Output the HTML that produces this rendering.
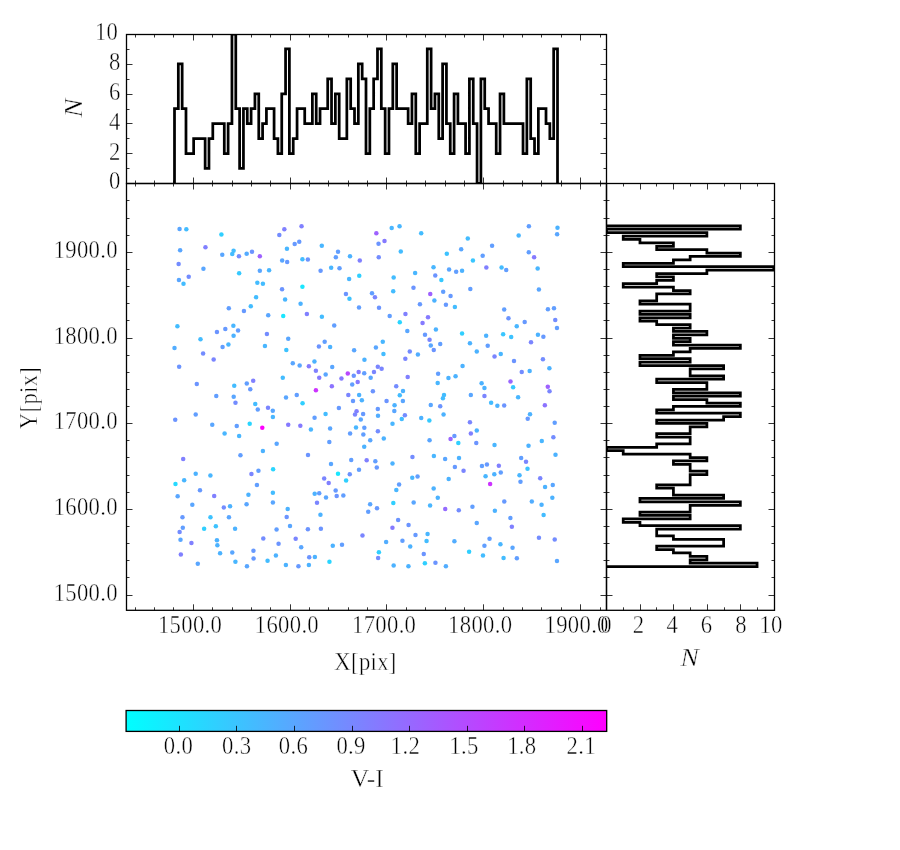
<!DOCTYPE html>
<html><head><meta charset="utf-8"><title>plot</title>
<style>
html,body{margin:0;padding:0;background:#fff;}
svg{display:block;}
text{font-family:"Liberation Serif","DejaVu Serif",serif;fill:#000;stroke:#fff;stroke-width:0.45px;}
</style></head>
<body>
<svg width="900" height="850" viewBox="0 0 900 850">
<defs>
<linearGradient id="cool" x1="0" y1="0" x2="1" y2="0">
<stop offset="0" stop-color="#00ffff"/><stop offset="1" stop-color="#ff00ff"/>
</linearGradient>
<clipPath id="cth"><rect x="126.5" y="34" width="479.9" height="149.4"/></clipPath>
<clipPath id="crh"><rect x="606.4" y="183.4" width="168.1" height="426.9"/></clipPath>
</defs>
<rect x="0" y="0" width="900" height="850" fill="#fff"/>
<g id="dots">
<circle cx="179.58" cy="228.93" r="2.25" fill="#59a6ff"/>
<circle cx="186.33" cy="229.36" r="2.25" fill="#43bcff"/>
<circle cx="221.4" cy="234.59" r="2.25" fill="#30cfff"/>
<circle cx="205.45" cy="247.22" r="2.25" fill="#8080ff"/>
<circle cx="180.13" cy="250.37" r="2.25" fill="#59a6ff"/>
<circle cx="222.27" cy="254.63" r="2.25" fill="#59a6ff"/>
<circle cx="233.59" cy="250.82" r="2.25" fill="#43bcff"/>
<circle cx="232.26" cy="253.97" r="2.25" fill="#43bcff"/>
<circle cx="238.93" cy="256.26" r="2.25" fill="#738cff"/>
<circle cx="246.66" cy="253.86" r="2.25" fill="#54abff"/>
<circle cx="251.99" cy="251.8" r="2.25" fill="#6b94ff"/>
<circle cx="259.83" cy="256.26" r="2.25" fill="#9e61ff"/>
<circle cx="178.64" cy="263.97" r="2.25" fill="#738cff"/>
<circle cx="203.43" cy="268.78" r="2.25" fill="#59a6ff"/>
<circle cx="239.14" cy="273.36" r="2.25" fill="#36c9ff"/>
<circle cx="259.83" cy="270.77" r="2.25" fill="#59a6ff"/>
<circle cx="188.73" cy="276.84" r="2.25" fill="#738cff"/>
<circle cx="178.93" cy="279.89" r="2.25" fill="#59a6ff"/>
<circle cx="183.5" cy="283.81" r="2.25" fill="#43bcff"/>
<circle cx="257.33" cy="282.83" r="2.25" fill="#43bcff"/>
<circle cx="262.9" cy="283.81" r="2.25" fill="#43bcff"/>
<circle cx="256.13" cy="297.2" r="2.25" fill="#43bcff"/>
<circle cx="250.79" cy="306.24" r="2.25" fill="#43bcff"/>
<circle cx="284.33" cy="229.26" r="2.25" fill="#8080ff"/>
<circle cx="301.54" cy="226.32" r="2.25" fill="#8080ff"/>
<circle cx="279.32" cy="234.92" r="2.25" fill="#738cff"/>
<circle cx="294.68" cy="244.06" r="2.25" fill="#6699ff"/>
<circle cx="299.25" cy="241.67" r="2.25" fill="#6699ff"/>
<circle cx="286.95" cy="248.86" r="2.25" fill="#49b6ff"/>
<circle cx="321.79" cy="245.7" r="2.25" fill="#49b6ff"/>
<circle cx="338.02" cy="251.8" r="2.25" fill="#619eff"/>
<circle cx="335.84" cy="257.35" r="2.25" fill="#619eff"/>
<circle cx="349.99" cy="256.26" r="2.25" fill="#4cb2ff"/>
<circle cx="359.79" cy="260.57" r="2.25" fill="#8080ff"/>
<circle cx="282.16" cy="260.57" r="2.25" fill="#59a6ff"/>
<circle cx="287.16" cy="262.03" r="2.25" fill="#6699ff"/>
<circle cx="302.41" cy="259.31" r="2.25" fill="#43bcff"/>
<circle cx="307.85" cy="259.53" r="2.25" fill="#6b94ff"/>
<circle cx="269.09" cy="270.2" r="2.25" fill="#49b6ff"/>
<circle cx="320.59" cy="270.77" r="2.25" fill="#6699ff"/>
<circle cx="331.16" cy="267.8" r="2.25" fill="#49b6ff"/>
<circle cx="339.5" cy="268.13" r="2.25" fill="#619eff"/>
<circle cx="349.12" cy="278.91" r="2.25" fill="#49b6ff"/>
<circle cx="359.25" cy="275.86" r="2.25" fill="#30cfff"/>
<circle cx="282.05" cy="289.25" r="2.25" fill="#6b94ff"/>
<circle cx="302.41" cy="286.64" r="2.25" fill="#1ae6ff"/>
<circle cx="345.96" cy="294.03" r="2.25" fill="#6b94ff"/>
<circle cx="349.45" cy="298.73" r="2.25" fill="#3dc2ff"/>
<circle cx="285.1" cy="299.49" r="2.25" fill="#49b6ff"/>
<circle cx="300.58" cy="303.84" r="2.25" fill="#4cb2ff"/>
<circle cx="376.34" cy="233.37" r="2.25" fill="#9e61ff"/>
<circle cx="391.7" cy="227.95" r="2.25" fill="#49b6ff"/>
<circle cx="399.54" cy="226.27" r="2.25" fill="#49b6ff"/>
<circle cx="421.21" cy="233.37" r="2.25" fill="#43bcff"/>
<circle cx="384.51" cy="241.12" r="2.25" fill="#857aff"/>
<circle cx="378.52" cy="243.63" r="2.25" fill="#6b94ff"/>
<circle cx="400.78" cy="251.58" r="2.25" fill="#43bcff"/>
<circle cx="378.74" cy="257.24" r="2.25" fill="#738cff"/>
<circle cx="446.8" cy="253.77" r="2.25" fill="#3dc2ff"/>
<circle cx="461.17" cy="249.18" r="2.25" fill="#59a6ff"/>
<circle cx="433.51" cy="267.37" r="2.25" fill="#49b6ff"/>
<circle cx="415.11" cy="273.03" r="2.25" fill="#49b6ff"/>
<circle cx="449.08" cy="269.54" r="2.25" fill="#59a6ff"/>
<circle cx="456.16" cy="271.72" r="2.25" fill="#619eff"/>
<circle cx="462.06" cy="270.77" r="2.25" fill="#4cb2ff"/>
<circle cx="435.25" cy="275.42" r="2.25" fill="#6b94ff"/>
<circle cx="441.35" cy="280.11" r="2.25" fill="#36c9ff"/>
<circle cx="393.66" cy="277.57" r="2.25" fill="#43bcff"/>
<circle cx="413.48" cy="287.77" r="2.25" fill="#6b94ff"/>
<circle cx="393.22" cy="291.17" r="2.25" fill="#43bcff"/>
<circle cx="371.99" cy="293.17" r="2.25" fill="#619eff"/>
<circle cx="374.93" cy="297.31" r="2.25" fill="#7a85ff"/>
<circle cx="430.24" cy="294.03" r="2.25" fill="#9e61ff"/>
<circle cx="443.2" cy="291.65" r="2.25" fill="#619eff"/>
<circle cx="450.57" cy="295.9" r="2.25" fill="#6699ff"/>
<circle cx="434.38" cy="300.58" r="2.25" fill="#4cb2ff"/>
<circle cx="419.93" cy="304.23" r="2.25" fill="#6699ff"/>
<circle cx="445.92" cy="304.77" r="2.25" fill="#6699ff"/>
<circle cx="467.78" cy="238.56" r="2.25" fill="#43bcff"/>
<circle cx="492.08" cy="245.67" r="2.25" fill="#619eff"/>
<circle cx="528.89" cy="226.27" r="2.25" fill="#619eff"/>
<circle cx="518.67" cy="235.56" r="2.25" fill="#49b6ff"/>
<circle cx="557.49" cy="227.78" r="2.25" fill="#4cb2ff"/>
<circle cx="557.11" cy="234.22" r="2.25" fill="#59a6ff"/>
<circle cx="482.67" cy="255.78" r="2.25" fill="#619eff"/>
<circle cx="472.93" cy="260.57" r="2.25" fill="#39c6ff"/>
<circle cx="528.78" cy="252.33" r="2.25" fill="#619eff"/>
<circle cx="534.11" cy="257.17" r="2.25" fill="#857aff"/>
<circle cx="486.33" cy="267.44" r="2.25" fill="#8080ff"/>
<circle cx="501.56" cy="267.44" r="2.25" fill="#43bcff"/>
<circle cx="506.22" cy="269.89" r="2.25" fill="#619eff"/>
<circle cx="537.67" cy="268.44" r="2.25" fill="#49b6ff"/>
<circle cx="470.33" cy="289.11" r="2.25" fill="#619eff"/>
<circle cx="538.89" cy="289.44" r="2.25" fill="#59a6ff"/>
<circle cx="228.8" cy="308.23" r="2.25" fill="#619eff"/>
<circle cx="243.94" cy="310.95" r="2.25" fill="#6699ff"/>
<circle cx="177.4" cy="326.19" r="2.25" fill="#43bcff"/>
<circle cx="216.94" cy="331.97" r="2.25" fill="#6b94ff"/>
<circle cx="225.32" cy="328.92" r="2.25" fill="#6699ff"/>
<circle cx="233.37" cy="325.76" r="2.25" fill="#49b6ff"/>
<circle cx="238.06" cy="330.44" r="2.25" fill="#619eff"/>
<circle cx="233.59" cy="335.67" r="2.25" fill="#4cb2ff"/>
<circle cx="200.49" cy="339.15" r="2.25" fill="#43bcff"/>
<circle cx="228.43" cy="344.49" r="2.25" fill="#49b6ff"/>
<circle cx="222.59" cy="347.1" r="2.25" fill="#619eff"/>
<circle cx="174.51" cy="348.08" r="2.25" fill="#52adff"/>
<circle cx="266.91" cy="334.03" r="2.25" fill="#738cff"/>
<circle cx="264.95" cy="346.12" r="2.25" fill="#49b6ff"/>
<circle cx="203.1" cy="353.52" r="2.25" fill="#738cff"/>
<circle cx="213.66" cy="359.4" r="2.25" fill="#7a85ff"/>
<circle cx="179.15" cy="366.7" r="2.25" fill="#6b94ff"/>
<circle cx="196.79" cy="384.01" r="2.25" fill="#6b94ff"/>
<circle cx="234.24" cy="385.83" r="2.25" fill="#43bcff"/>
<circle cx="246.77" cy="383.58" r="2.25" fill="#619eff"/>
<circle cx="253.19" cy="380.86" r="2.25" fill="#8080ff"/>
<circle cx="250.25" cy="389.23" r="2.25" fill="#6699ff"/>
<circle cx="359" cy="307.44" r="2.25" fill="#619eff"/>
<circle cx="268.22" cy="315.22" r="2.25" fill="#59a6ff"/>
<circle cx="283.22" cy="316" r="2.25" fill="#1ae6ff"/>
<circle cx="306.89" cy="314.11" r="2.25" fill="#8080ff"/>
<circle cx="321.89" cy="316.67" r="2.25" fill="#43bcff"/>
<circle cx="334.22" cy="325.44" r="2.25" fill="#619eff"/>
<circle cx="288.22" cy="338.77" r="2.25" fill="#59a6ff"/>
<circle cx="324.67" cy="341.63" r="2.25" fill="#619eff"/>
<circle cx="318.89" cy="346.56" r="2.25" fill="#6b94ff"/>
<circle cx="330.11" cy="347.11" r="2.25" fill="#4cb2ff"/>
<circle cx="286.33" cy="350.11" r="2.25" fill="#3dc2ff"/>
<circle cx="354.11" cy="350.33" r="2.25" fill="#59a6ff"/>
<circle cx="364.44" cy="359.67" r="2.25" fill="#4cb2ff"/>
<circle cx="292.78" cy="363.22" r="2.25" fill="#59a6ff"/>
<circle cx="299.67" cy="365.43" r="2.25" fill="#59a6ff"/>
<circle cx="308.86" cy="366.33" r="2.25" fill="#857aff"/>
<circle cx="314.44" cy="361.56" r="2.25" fill="#4cb2ff"/>
<circle cx="315.89" cy="370.78" r="2.25" fill="#8080ff"/>
<circle cx="332.22" cy="366.89" r="2.25" fill="#59a6ff"/>
<circle cx="325.67" cy="374.44" r="2.25" fill="#59a6ff"/>
<circle cx="319.22" cy="377.78" r="2.25" fill="#857aff"/>
<circle cx="282.78" cy="377.67" r="2.25" fill="#43bcff"/>
<circle cx="341.44" cy="378.56" r="2.25" fill="#857aff"/>
<circle cx="347.78" cy="373.56" r="2.25" fill="#b847ff"/>
<circle cx="353.78" cy="375.63" r="2.25" fill="#6b94ff"/>
<circle cx="358.65" cy="371.89" r="2.25" fill="#857aff"/>
<circle cx="364.22" cy="373.22" r="2.25" fill="#619eff"/>
<circle cx="357.67" cy="381.89" r="2.25" fill="#857aff"/>
<circle cx="352.22" cy="384.44" r="2.25" fill="#619eff"/>
<circle cx="331.84" cy="386.37" r="2.25" fill="#8c73ff"/>
<circle cx="315.9" cy="390.22" r="2.25" fill="#cc33ff"/>
<circle cx="379" cy="307.63" r="2.25" fill="#6b94ff"/>
<circle cx="454.89" cy="307.11" r="2.25" fill="#43bcff"/>
<circle cx="389.67" cy="316.11" r="2.25" fill="#619eff"/>
<circle cx="405.44" cy="314" r="2.25" fill="#8080ff"/>
<circle cx="399.78" cy="322.22" r="2.25" fill="#2ad5ff"/>
<circle cx="428" cy="317.22" r="2.25" fill="#857aff"/>
<circle cx="422.56" cy="322.89" r="2.25" fill="#857aff"/>
<circle cx="407.33" cy="331" r="2.25" fill="#59a6ff"/>
<circle cx="435.89" cy="329.44" r="2.25" fill="#4cb2ff"/>
<circle cx="425" cy="334.78" r="2.25" fill="#6699ff"/>
<circle cx="462.06" cy="333.56" r="2.25" fill="#30cfff"/>
<circle cx="429.56" cy="339.78" r="2.25" fill="#7a85ff"/>
<circle cx="430.78" cy="345.57" r="2.25" fill="#59a6ff"/>
<circle cx="440.22" cy="343.89" r="2.25" fill="#619eff"/>
<circle cx="433.78" cy="350" r="2.25" fill="#6b94ff"/>
<circle cx="382.78" cy="341.63" r="2.25" fill="#49b6ff"/>
<circle cx="375.89" cy="347.56" r="2.25" fill="#59a6ff"/>
<circle cx="383.44" cy="353.89" r="2.25" fill="#43bcff"/>
<circle cx="409.78" cy="351.56" r="2.25" fill="#738cff"/>
<circle cx="417.89" cy="354.44" r="2.25" fill="#52adff"/>
<circle cx="405.33" cy="358.63" r="2.25" fill="#7a85ff"/>
<circle cx="462.56" cy="366.11" r="2.25" fill="#4cb2ff"/>
<circle cx="377.8" cy="366.67" r="2.25" fill="#7a85ff"/>
<circle cx="381.63" cy="368.83" r="2.25" fill="#7a85ff"/>
<circle cx="373.97" cy="372.11" r="2.25" fill="#7a85ff"/>
<circle cx="370.67" cy="377.78" r="2.25" fill="#59a6ff"/>
<circle cx="407.67" cy="377" r="2.25" fill="#8080ff"/>
<circle cx="438.11" cy="373.78" r="2.25" fill="#619eff"/>
<circle cx="448.44" cy="378.11" r="2.25" fill="#4cb2ff"/>
<circle cx="455.56" cy="376.33" r="2.25" fill="#4cb2ff"/>
<circle cx="437.67" cy="383" r="2.25" fill="#49b6ff"/>
<circle cx="396.22" cy="386.37" r="2.25" fill="#738cff"/>
<circle cx="372.89" cy="391.33" r="2.25" fill="#6b94ff"/>
<circle cx="403" cy="391.11" r="2.25" fill="#4cb2ff"/>
<circle cx="504.19" cy="309.57" r="2.25" fill="#619eff"/>
<circle cx="547.91" cy="309.35" r="2.25" fill="#619eff"/>
<circle cx="553.98" cy="308.17" r="2.25" fill="#619eff"/>
<circle cx="508.47" cy="318.37" r="2.25" fill="#6b94ff"/>
<circle cx="524.67" cy="322.04" r="2.25" fill="#6699ff"/>
<circle cx="555.27" cy="320" r="2.25" fill="#738cff"/>
<circle cx="556.97" cy="328.03" r="2.25" fill="#619eff"/>
<circle cx="516.74" cy="326.23" r="2.25" fill="#49b6ff"/>
<circle cx="486.14" cy="335.75" r="2.25" fill="#4cb2ff"/>
<circle cx="503.14" cy="334.17" r="2.25" fill="#39c6ff"/>
<circle cx="511.19" cy="337.11" r="2.25" fill="#3dc2ff"/>
<circle cx="537.93" cy="334.83" r="2.25" fill="#4cb2ff"/>
<circle cx="543.37" cy="336.77" r="2.25" fill="#6699ff"/>
<circle cx="531" cy="342.21" r="2.25" fill="#7a85ff"/>
<circle cx="469.93" cy="343.23" r="2.25" fill="#4cb2ff"/>
<circle cx="487.73" cy="345.73" r="2.25" fill="#619eff"/>
<circle cx="476.76" cy="351.51" r="2.25" fill="#4cb2ff"/>
<circle cx="494.53" cy="356.49" r="2.25" fill="#7a85ff"/>
<circle cx="500.76" cy="354" r="2.25" fill="#49b6ff"/>
<circle cx="514.02" cy="360.91" r="2.25" fill="#6b94ff"/>
<circle cx="542.92" cy="359.33" r="2.25" fill="#738cff"/>
<circle cx="549.38" cy="368.17" r="2.25" fill="#4cb2ff"/>
<circle cx="521.73" cy="371.91" r="2.25" fill="#738cff"/>
<circle cx="529.66" cy="371" r="2.25" fill="#4cb2ff"/>
<circle cx="510.51" cy="381.43" r="2.25" fill="#9966ff"/>
<circle cx="481.61" cy="383.35" r="2.25" fill="#4cb2ff"/>
<circle cx="484.42" cy="388.11" r="2.25" fill="#4cb2ff"/>
<circle cx="513.11" cy="387.21" r="2.25" fill="#36c9ff"/>
<circle cx="547.79" cy="386.87" r="2.25" fill="#9e61ff"/>
<circle cx="549.53" cy="391.17" r="2.25" fill="#7a85ff"/>
<circle cx="216.28" cy="396.03" r="2.25" fill="#619eff"/>
<circle cx="233.7" cy="396.75" r="2.25" fill="#59a6ff"/>
<circle cx="235.47" cy="402.83" r="2.25" fill="#738cff"/>
<circle cx="255.24" cy="404.05" r="2.25" fill="#43bcff"/>
<circle cx="257.76" cy="409.49" r="2.25" fill="#619eff"/>
<circle cx="195.7" cy="414.39" r="2.25" fill="#619eff"/>
<circle cx="175.23" cy="419.83" r="2.25" fill="#6b94ff"/>
<circle cx="212.25" cy="424.84" r="2.25" fill="#59a6ff"/>
<circle cx="236.75" cy="425.93" r="2.25" fill="#619eff"/>
<circle cx="249.71" cy="423.77" r="2.25" fill="#2ad5ff"/>
<circle cx="262.28" cy="427.78" r="2.25" fill="#ff00ff"/>
<circle cx="224.6" cy="433.43" r="2.25" fill="#49b6ff"/>
<circle cx="239.14" cy="435.95" r="2.25" fill="#49b6ff"/>
<circle cx="262.9" cy="450.98" r="2.25" fill="#4cb2ff"/>
<circle cx="240.45" cy="455.22" r="2.25" fill="#619eff"/>
<circle cx="183.18" cy="458.93" r="2.25" fill="#8080ff"/>
<circle cx="195.7" cy="473.63" r="2.25" fill="#4cb2ff"/>
<circle cx="210.4" cy="475.48" r="2.25" fill="#49b6ff"/>
<circle cx="251.45" cy="473.95" r="2.25" fill="#7a85ff"/>
<circle cx="258.45" cy="470.8" r="2.25" fill="#619eff"/>
<circle cx="184.16" cy="480.16" r="2.25" fill="#49b6ff"/>
<circle cx="286" cy="397.44" r="2.25" fill="#59a6ff"/>
<circle cx="296.75" cy="395.11" r="2.25" fill="#619eff"/>
<circle cx="348.33" cy="394.89" r="2.25" fill="#7a85ff"/>
<circle cx="359.11" cy="395" r="2.25" fill="#4cb2ff"/>
<circle cx="353" cy="400.89" r="2.25" fill="#6699ff"/>
<circle cx="361.86" cy="400.22" r="2.25" fill="#4cb2ff"/>
<circle cx="302.56" cy="403.37" r="2.25" fill="#30cfff"/>
<circle cx="268" cy="407.78" r="2.25" fill="#7a85ff"/>
<circle cx="272.78" cy="410.78" r="2.25" fill="#59a6ff"/>
<circle cx="272.89" cy="416.97" r="2.25" fill="#49b6ff"/>
<circle cx="338.88" cy="407.89" r="2.25" fill="#6699ff"/>
<circle cx="325.56" cy="414" r="2.25" fill="#43bcff"/>
<circle cx="314.56" cy="417.67" r="2.25" fill="#619eff"/>
<circle cx="356.56" cy="411.33" r="2.25" fill="#8080ff"/>
<circle cx="355" cy="414.44" r="2.25" fill="#7a85ff"/>
<circle cx="363.11" cy="414.11" r="2.25" fill="#6699ff"/>
<circle cx="360.78" cy="419.44" r="2.25" fill="#59a6ff"/>
<circle cx="288.22" cy="424.67" r="2.25" fill="#857aff"/>
<circle cx="300.33" cy="425.67" r="2.25" fill="#857aff"/>
<circle cx="310.89" cy="429.56" r="2.25" fill="#49b6ff"/>
<circle cx="330.11" cy="428.56" r="2.25" fill="#59a6ff"/>
<circle cx="356" cy="427.44" r="2.25" fill="#49b6ff"/>
<circle cx="364.33" cy="427.67" r="2.25" fill="#619eff"/>
<circle cx="350.11" cy="433.43" r="2.25" fill="#619eff"/>
<circle cx="363.33" cy="434.56" r="2.25" fill="#619eff"/>
<circle cx="276.67" cy="443.63" r="2.25" fill="#59a6ff"/>
<circle cx="329.33" cy="441.89" r="2.25" fill="#619eff"/>
<circle cx="364.22" cy="446.78" r="2.25" fill="#4cb2ff"/>
<circle cx="308" cy="455" r="2.25" fill="#6b94ff"/>
<circle cx="351.22" cy="460.11" r="2.25" fill="#619eff"/>
<circle cx="331" cy="463.89" r="2.25" fill="#59a6ff"/>
<circle cx="273.11" cy="469.33" r="2.25" fill="#2ad5ff"/>
<circle cx="338" cy="473.78" r="2.25" fill="#1ae6ff"/>
<circle cx="349.78" cy="474.23" r="2.25" fill="#6b94ff"/>
<circle cx="359" cy="469.67" r="2.25" fill="#619eff"/>
<circle cx="324.18" cy="478.56" r="2.25" fill="#7a85ff"/>
<circle cx="399.78" cy="395.22" r="2.25" fill="#43bcff"/>
<circle cx="386.56" cy="401" r="2.25" fill="#6b94ff"/>
<circle cx="402.89" cy="400.89" r="2.25" fill="#59a6ff"/>
<circle cx="394.56" cy="405.22" r="2.25" fill="#4cb2ff"/>
<circle cx="377.8" cy="409.11" r="2.25" fill="#6699ff"/>
<circle cx="394.33" cy="411.11" r="2.25" fill="#59a6ff"/>
<circle cx="378" cy="415.78" r="2.25" fill="#52adff"/>
<circle cx="404.89" cy="415.33" r="2.25" fill="#738cff"/>
<circle cx="401.78" cy="419" r="2.25" fill="#43bcff"/>
<circle cx="392.5" cy="423.78" r="2.25" fill="#49b6ff"/>
<circle cx="444" cy="395" r="2.25" fill="#43bcff"/>
<circle cx="442.91" cy="398.22" r="2.25" fill="#43bcff"/>
<circle cx="430.78" cy="405.11" r="2.25" fill="#59a6ff"/>
<circle cx="440.22" cy="406.22" r="2.25" fill="#6b94ff"/>
<circle cx="443.56" cy="414.56" r="2.25" fill="#4cb2ff"/>
<circle cx="421.22" cy="417.89" r="2.25" fill="#4cb2ff"/>
<circle cx="429.33" cy="420.56" r="2.25" fill="#36c9ff"/>
<circle cx="377.89" cy="431.33" r="2.25" fill="#738cff"/>
<circle cx="370.22" cy="440.23" r="2.25" fill="#59a6ff"/>
<circle cx="383.78" cy="438.56" r="2.25" fill="#4cb2ff"/>
<circle cx="429.56" cy="440.23" r="2.25" fill="#59a6ff"/>
<circle cx="454.4" cy="436" r="2.25" fill="#6699ff"/>
<circle cx="450.57" cy="439" r="2.25" fill="#9966ff"/>
<circle cx="458.33" cy="443" r="2.25" fill="#30cfff"/>
<circle cx="412.44" cy="457" r="2.25" fill="#738cff"/>
<circle cx="433.89" cy="456.11" r="2.25" fill="#49b6ff"/>
<circle cx="445.11" cy="458.89" r="2.25" fill="#59a6ff"/>
<circle cx="459" cy="458" r="2.25" fill="#4cb2ff"/>
<circle cx="366.67" cy="460.33" r="2.25" fill="#8080ff"/>
<circle cx="375.33" cy="461.17" r="2.25" fill="#619eff"/>
<circle cx="376.78" cy="467.43" r="2.25" fill="#6699ff"/>
<circle cx="392.5" cy="463.56" r="2.25" fill="#4cb2ff"/>
<circle cx="454.89" cy="466.89" r="2.25" fill="#6699ff"/>
<circle cx="463.56" cy="470.83" r="2.25" fill="#7a85ff"/>
<circle cx="412.27" cy="477.63" r="2.25" fill="#49b6ff"/>
<circle cx="417.56" cy="476.44" r="2.25" fill="#619eff"/>
<circle cx="448.67" cy="478.89" r="2.25" fill="#4cb2ff"/>
<circle cx="470.84" cy="394.99" r="2.25" fill="#59a6ff"/>
<circle cx="484.42" cy="396.03" r="2.25" fill="#7a85ff"/>
<circle cx="518.1" cy="397.37" r="2.25" fill="#49b6ff"/>
<circle cx="491.13" cy="402.69" r="2.25" fill="#43bcff"/>
<circle cx="497.36" cy="405.64" r="2.25" fill="#4cb2ff"/>
<circle cx="504.19" cy="405.53" r="2.25" fill="#6b94ff"/>
<circle cx="544.85" cy="405.3" r="2.25" fill="#8c73ff"/>
<circle cx="530" cy="414.25" r="2.25" fill="#4cb2ff"/>
<circle cx="527.73" cy="418.79" r="2.25" fill="#6699ff"/>
<circle cx="469.93" cy="422.3" r="2.25" fill="#7a85ff"/>
<circle cx="554.71" cy="422.87" r="2.25" fill="#619eff"/>
<circle cx="476.76" cy="430.57" r="2.25" fill="#4cb2ff"/>
<circle cx="470.84" cy="433.41" r="2.25" fill="#8080ff"/>
<circle cx="553.36" cy="437.37" r="2.25" fill="#738cff"/>
<circle cx="476.28" cy="443.04" r="2.25" fill="#6b94ff"/>
<circle cx="494.53" cy="445.08" r="2.25" fill="#49b6ff"/>
<circle cx="528.53" cy="445.65" r="2.25" fill="#4cb2ff"/>
<circle cx="541.79" cy="441.11" r="2.25" fill="#49b6ff"/>
<circle cx="555.5" cy="454.71" r="2.25" fill="#4cb2ff"/>
<circle cx="521.16" cy="458" r="2.25" fill="#619eff"/>
<circle cx="526.03" cy="461.85" r="2.25" fill="#7a85ff"/>
<circle cx="527.51" cy="468.77" r="2.25" fill="#3dc2ff"/>
<circle cx="481.95" cy="465.93" r="2.25" fill="#619eff"/>
<circle cx="486.93" cy="464.57" r="2.25" fill="#6699ff"/>
<circle cx="498.83" cy="465.71" r="2.25" fill="#8080ff"/>
<circle cx="485.57" cy="476.13" r="2.25" fill="#49b6ff"/>
<circle cx="494.3" cy="474.23" r="2.25" fill="#4cb2ff"/>
<circle cx="500.76" cy="472.62" r="2.25" fill="#619eff"/>
<circle cx="519.51" cy="475.23" r="2.25" fill="#49b6ff"/>
<circle cx="540.2" cy="478.29" r="2.25" fill="#7a85ff"/>
<circle cx="175.47" cy="484" r="2.25" fill="#26d9ff"/>
<circle cx="256.95" cy="484.98" r="2.25" fill="#619eff"/>
<circle cx="199.97" cy="490.23" r="2.25" fill="#6699ff"/>
<circle cx="177.66" cy="496.36" r="2.25" fill="#59a6ff"/>
<circle cx="214.19" cy="495.92" r="2.25" fill="#8080ff"/>
<circle cx="248.42" cy="494.63" r="2.25" fill="#4cb2ff"/>
<circle cx="192.31" cy="504.83" r="2.25" fill="#59a6ff"/>
<circle cx="223.81" cy="507.41" r="2.25" fill="#738cff"/>
<circle cx="230.05" cy="506.31" r="2.25" fill="#4cb2ff"/>
<circle cx="246.56" cy="504.34" r="2.25" fill="#59a6ff"/>
<circle cx="182.47" cy="517.36" r="2.25" fill="#6699ff"/>
<circle cx="210.47" cy="517.36" r="2.25" fill="#3dc2ff"/>
<circle cx="228.95" cy="517.25" r="2.25" fill="#59a6ff"/>
<circle cx="182.8" cy="527.64" r="2.25" fill="#619eff"/>
<circle cx="179.62" cy="532.03" r="2.25" fill="#738cff"/>
<circle cx="204.12" cy="528.63" r="2.25" fill="#30cfff"/>
<circle cx="215.83" cy="526.22" r="2.25" fill="#3dc2ff"/>
<circle cx="235.08" cy="528.63" r="2.25" fill="#4cb2ff"/>
<circle cx="180.5" cy="539.78" r="2.25" fill="#59a6ff"/>
<circle cx="191.44" cy="543.06" r="2.25" fill="#8080ff"/>
<circle cx="216.94" cy="540.22" r="2.25" fill="#4cb2ff"/>
<circle cx="217.36" cy="545.14" r="2.25" fill="#4cb2ff"/>
<circle cx="263.3" cy="538.58" r="2.25" fill="#738cff"/>
<circle cx="180.83" cy="554.55" r="2.25" fill="#8080ff"/>
<circle cx="220.09" cy="553.23" r="2.25" fill="#4cb2ff"/>
<circle cx="232.26" cy="552.43" r="2.25" fill="#59a6ff"/>
<circle cx="253.45" cy="550.83" r="2.25" fill="#6699ff"/>
<circle cx="253.56" cy="558.48" r="2.25" fill="#6699ff"/>
<circle cx="197.79" cy="563.73" r="2.25" fill="#59a6ff"/>
<circle cx="235.41" cy="561.66" r="2.25" fill="#49b6ff"/>
<circle cx="246.96" cy="566.33" r="2.25" fill="#59a6ff"/>
<circle cx="267.56" cy="560.67" r="2.25" fill="#43bcff"/>
<circle cx="346.11" cy="480.44" r="2.25" fill="#30cfff"/>
<circle cx="328.67" cy="483" r="2.25" fill="#8080ff"/>
<circle cx="272.89" cy="492.78" r="2.25" fill="#43bcff"/>
<circle cx="272.89" cy="502.44" r="2.25" fill="#59a6ff"/>
<circle cx="314.67" cy="493.78" r="2.25" fill="#4cb2ff"/>
<circle cx="319.22" cy="493.33" r="2.25" fill="#619eff"/>
<circle cx="326" cy="497.56" r="2.25" fill="#59a6ff"/>
<circle cx="335.67" cy="490.44" r="2.25" fill="#6699ff"/>
<circle cx="336.67" cy="495.89" r="2.25" fill="#6b94ff"/>
<circle cx="343.33" cy="495.44" r="2.25" fill="#619eff"/>
<circle cx="317" cy="502.67" r="2.25" fill="#7a85ff"/>
<circle cx="287.67" cy="508.89" r="2.25" fill="#4cb2ff"/>
<circle cx="286.67" cy="517" r="2.25" fill="#6b94ff"/>
<circle cx="320.44" cy="514.78" r="2.25" fill="#4cb2ff"/>
<circle cx="290" cy="525.89" r="2.25" fill="#59a6ff"/>
<circle cx="276.56" cy="529.44" r="2.25" fill="#619eff"/>
<circle cx="307.89" cy="529.33" r="2.25" fill="#6b94ff"/>
<circle cx="320.89" cy="528.63" r="2.25" fill="#6b94ff"/>
<circle cx="362.48" cy="535.43" r="2.25" fill="#7a85ff"/>
<circle cx="295.67" cy="538.83" r="2.25" fill="#7a85ff"/>
<circle cx="278.56" cy="543.78" r="2.25" fill="#6b94ff"/>
<circle cx="301.2" cy="547.22" r="2.25" fill="#59a6ff"/>
<circle cx="332.78" cy="545.63" r="2.25" fill="#4cb2ff"/>
<circle cx="342" cy="544.78" r="2.25" fill="#619eff"/>
<circle cx="275.89" cy="555.56" r="2.25" fill="#4cb2ff"/>
<circle cx="309.22" cy="557.22" r="2.25" fill="#6b94ff"/>
<circle cx="314.89" cy="557" r="2.25" fill="#4cb2ff"/>
<circle cx="329.44" cy="561.67" r="2.25" fill="#2ad5ff"/>
<circle cx="285.88" cy="564.89" r="2.25" fill="#4cb2ff"/>
<circle cx="298.44" cy="566.33" r="2.25" fill="#6699ff"/>
<circle cx="308.89" cy="565.11" r="2.25" fill="#4cb2ff"/>
<circle cx="399.11" cy="484.43" r="2.25" fill="#619eff"/>
<circle cx="396.33" cy="489.89" r="2.25" fill="#49b6ff"/>
<circle cx="433.67" cy="488.44" r="2.25" fill="#4cb2ff"/>
<circle cx="437.78" cy="497.78" r="2.25" fill="#4cb2ff"/>
<circle cx="370.14" cy="504.33" r="2.25" fill="#59a6ff"/>
<circle cx="377" cy="508.23" r="2.25" fill="#6699ff"/>
<circle cx="368.22" cy="511.63" r="2.25" fill="#619eff"/>
<circle cx="393.33" cy="503" r="2.25" fill="#30cfff"/>
<circle cx="413.67" cy="502.44" r="2.25" fill="#59a6ff"/>
<circle cx="430.11" cy="505.56" r="2.25" fill="#49b6ff"/>
<circle cx="445.22" cy="509" r="2.25" fill="#946bff"/>
<circle cx="458.78" cy="510.33" r="2.25" fill="#738cff"/>
<circle cx="398.11" cy="520.11" r="2.25" fill="#6b94ff"/>
<circle cx="408.56" cy="524.89" r="2.25" fill="#6b94ff"/>
<circle cx="392.44" cy="527.67" r="2.25" fill="#857aff"/>
<circle cx="415.48" cy="534.89" r="2.25" fill="#6699ff"/>
<circle cx="427.59" cy="534" r="2.25" fill="#49b6ff"/>
<circle cx="386.11" cy="542" r="2.25" fill="#52adff"/>
<circle cx="402.44" cy="540.67" r="2.25" fill="#619eff"/>
<circle cx="426.56" cy="541" r="2.25" fill="#43bcff"/>
<circle cx="410.22" cy="546.56" r="2.25" fill="#4cb2ff"/>
<circle cx="454.4" cy="541.22" r="2.25" fill="#52adff"/>
<circle cx="378.89" cy="552.22" r="2.25" fill="#30cfff"/>
<circle cx="378.11" cy="558.11" r="2.25" fill="#738cff"/>
<circle cx="423.78" cy="554.11" r="2.25" fill="#6b94ff"/>
<circle cx="393.67" cy="565.44" r="2.25" fill="#4cb2ff"/>
<circle cx="408.44" cy="566.33" r="2.25" fill="#4cb2ff"/>
<circle cx="424.89" cy="563.33" r="2.25" fill="#30cfff"/>
<circle cx="435.44" cy="562.63" r="2.25" fill="#6b94ff"/>
<circle cx="445.89" cy="566.33" r="2.25" fill="#52adff"/>
<circle cx="520.48" cy="481.76" r="2.25" fill="#619eff"/>
<circle cx="490.11" cy="484.03" r="2.25" fill="#cc33ff"/>
<circle cx="545.07" cy="487.09" r="2.25" fill="#4cb2ff"/>
<circle cx="552.78" cy="484.97" r="2.25" fill="#59a6ff"/>
<circle cx="552.33" cy="497.85" r="2.25" fill="#4cb2ff"/>
<circle cx="504.27" cy="501.43" r="2.25" fill="#6699ff"/>
<circle cx="531.81" cy="501.43" r="2.25" fill="#52adff"/>
<circle cx="541.56" cy="504.65" r="2.25" fill="#4cb2ff"/>
<circle cx="472.43" cy="506.69" r="2.25" fill="#619eff"/>
<circle cx="494.87" cy="510.66" r="2.25" fill="#4cb2ff"/>
<circle cx="543.6" cy="515.03" r="2.25" fill="#43bcff"/>
<circle cx="510.39" cy="517.91" r="2.25" fill="#619eff"/>
<circle cx="476.76" cy="523.01" r="2.25" fill="#59a6ff"/>
<circle cx="511.85" cy="526.64" r="2.25" fill="#8080ff"/>
<circle cx="489.54" cy="538.77" r="2.25" fill="#619eff"/>
<circle cx="538.95" cy="537.63" r="2.25" fill="#738cff"/>
<circle cx="554.71" cy="539.56" r="2.25" fill="#738cff"/>
<circle cx="484.42" cy="545.63" r="2.25" fill="#619eff"/>
<circle cx="500.42" cy="544.21" r="2.25" fill="#49b6ff"/>
<circle cx="512.55" cy="547.72" r="2.25" fill="#59a6ff"/>
<circle cx="469.1" cy="551.8" r="2.25" fill="#30cfff"/>
<circle cx="482.97" cy="555.54" r="2.25" fill="#43bcff"/>
<circle cx="503.57" cy="557.92" r="2.25" fill="#43bcff"/>
<circle cx="516.85" cy="558.15" r="2.25" fill="#619eff"/>
<circle cx="556.97" cy="561.09" r="2.25" fill="#59a6ff"/>
</g>
<g fill="none" stroke="#000" stroke-width="2.75" stroke-linejoin="miter" stroke-miterlimit="10">
<path clip-path="url(#cth)" d="M174.5 183.4 L174.5 108.7 L178.33 108.7 L178.33 63.88 L182.16 63.88 L182.16 108.7 L185.99 108.7 L185.99 153.52 L189.82 153.52 L189.82 153.52 L193.65 153.52 L193.65 138.58 L197.48 138.58 L197.48 138.58 L201.31 138.58 L201.31 138.58 L205.14 138.58 L205.14 168.46 L208.97 168.46 L208.97 138.58 L212.8 138.58 L212.8 123.64 L216.63 123.64 L216.63 123.64 L220.46 123.64 L220.46 123.64 L224.29 123.64 L224.29 153.52 L228.12 153.52 L228.12 123.64 L231.95 123.64 L231.95 34 L235.78 34 L235.78 108.7 L239.61 108.7 L239.61 168.46 L243.44 168.46 L243.44 108.7 L247.27 108.7 L247.27 123.64 L251.1 123.64 L251.1 108.7 L254.93 108.7 L254.93 93.76 L258.76 93.76 L258.76 138.58 L262.59 138.58 L262.59 123.64 L266.42 123.64 L266.42 108.7 L270.25 108.7 L270.25 108.7 L274.08 108.7 L274.08 138.58 L277.91 138.58 L277.91 153.52 L281.74 153.52 L281.74 93.76 L285.57 93.76 L285.57 48.94 L289.4 48.94 L289.4 153.52 L293.23 153.52 L293.23 138.58 L297.06 138.58 L297.06 108.7 L300.89 108.7 L300.89 108.7 L304.72 108.7 L304.72 123.64 L308.55 123.64 L308.55 123.64 L312.38 123.64 L312.38 93.76 L316.21 93.76 L316.21 123.64 L320.04 123.64 L320.04 108.7 L323.87 108.7 L323.87 108.7 L327.7 108.7 L327.7 78.82 L331.53 78.82 L331.53 123.64 L335.36 123.64 L335.36 93.76 L339.19 93.76 L339.19 138.58 L343.02 138.58 L343.02 138.58 L346.85 138.58 L346.85 78.82 L350.68 78.82 L350.68 108.7 L354.51 108.7 L354.51 123.64 L358.34 123.64 L358.34 63.88 L362.17 63.88 L362.17 78.82 L366 78.82 L366 153.52 L369.83 153.52 L369.83 108.7 L373.66 108.7 L373.66 78.82 L377.49 78.82 L377.49 48.94 L381.32 48.94 L381.32 108.7 L385.15 108.7 L385.15 153.52 L388.98 153.52 L388.98 108.7 L392.81 108.7 L392.81 63.88 L396.64 63.88 L396.64 108.7 L400.47 108.7 L400.47 108.7 L404.3 108.7 L404.3 108.7 L408.13 108.7 L408.13 123.64 L411.96 123.64 L411.96 93.76 L415.79 93.76 L415.79 153.52 L419.62 153.52 L419.62 123.64 L423.45 123.64 L423.45 123.64 L427.28 123.64 L427.28 48.94 L431.11 48.94 L431.11 108.7 L434.94 108.7 L434.94 93.76 L438.77 93.76 L438.77 138.58 L442.6 138.58 L442.6 63.88 L446.43 63.88 L446.43 123.64 L450.26 123.64 L450.26 153.52 L454.09 153.52 L454.09 93.76 L457.92 93.76 L457.92 123.64 L461.75 123.64 L461.75 123.64 L465.58 123.64 L465.58 153.52 L469.41 153.52 L469.41 78.82 L473.24 78.82 L473.24 123.64 L477.07 123.64 L477.07 183.4 L480.9 183.4 L480.9 78.82 L484.73 78.82 L484.73 108.7 L488.56 108.7 L488.56 123.64 L492.39 123.64 L492.39 123.64 L496.22 123.64 L496.22 153.52 L500.05 153.52 L500.05 93.76 L503.88 93.76 L503.88 123.64 L507.71 123.64 L507.71 123.64 L511.54 123.64 L511.54 123.64 L515.37 123.64 L515.37 123.64 L519.2 123.64 L519.2 123.64 L523.03 123.64 L523.03 153.52 L526.86 153.52 L526.86 78.82 L530.69 78.82 L530.69 138.58 L534.52 138.58 L534.52 153.52 L538.35 153.52 L538.35 108.7 L542.18 108.7 L542.18 108.7 L546.01 108.7 L546.01 123.64 L549.84 123.64 L549.84 138.58 L553.67 138.58 L553.67 48.94 L557.5 48.94 L557.5 183.4"/>
<path clip-path="url(#crh)" d="M606.5 566.6 L757.07 566.6 L757.07 563.19 L690.15 563.19 L690.15 559.78 L706.88 559.78 L706.88 556.38 L690.15 556.38 L690.15 552.97 L673.42 552.97 L673.42 549.56 L656.69 549.56 L656.69 546.15 L723.61 546.15 L723.61 542.74 L723.61 542.74 L723.61 539.34 L673.42 539.34 L673.42 535.93 L656.69 535.93 L656.69 532.52 L656.69 532.52 L656.69 529.11 L740.34 529.11 L740.34 525.7 L639.96 525.7 L639.96 522.3 L623.23 522.3 L623.23 518.89 L690.15 518.89 L690.15 515.48 L639.96 515.48 L639.96 512.07 L690.15 512.07 L690.15 508.66 L690.15 508.66 L690.15 505.26 L740.34 505.26 L740.34 501.85 L639.96 501.85 L639.96 498.44 L723.61 498.44 L723.61 495.03 L673.42 495.03 L673.42 491.62 L673.42 491.62 L673.42 488.22 L656.69 488.22 L656.69 484.81 L690.15 484.81 L690.15 481.4 L690.15 481.4 L690.15 477.99 L690.15 477.99 L690.15 474.58 L706.88 474.58 L706.88 471.18 L690.15 471.18 L690.15 467.77 L690.15 467.77 L690.15 464.36 L673.42 464.36 L673.42 460.95 L706.88 460.95 L706.88 457.54 L690.15 457.54 L690.15 454.14 L623.23 454.14 L623.23 450.73 L606.5 450.73 L606.5 447.32 L656.69 447.32 L656.69 443.91 L690.15 443.91 L690.15 440.5 L690.15 440.5 L690.15 437.1 L656.69 437.1 L656.69 433.69 L690.15 433.69 L690.15 430.28 L690.15 430.28 L690.15 426.87 L706.88 426.87 L706.88 423.46 L656.69 423.46 L656.69 420.06 L723.61 420.06 L723.61 416.65 L740.34 416.65 L740.34 413.24 L656.69 413.24 L656.69 409.83 L673.42 409.83 L673.42 406.42 L740.34 406.42 L740.34 403.02 L706.88 403.02 L706.88 399.61 L673.42 399.61 L673.42 396.2 L740.34 396.2 L740.34 392.79 L673.42 392.79 L673.42 389.38 L706.88 389.38 L706.88 385.98 L706.88 385.98 L706.88 382.57 L656.69 382.57 L656.69 379.16 L723.61 379.16 L723.61 375.75 L690.15 375.75 L690.15 372.34 L690.15 372.34 L690.15 368.94 L723.61 368.94 L723.61 365.53 L639.96 365.53 L639.96 362.12 L690.15 362.12 L690.15 358.71 L639.96 358.71 L639.96 355.3 L673.42 355.3 L673.42 351.9 L690.15 351.9 L690.15 348.49 L740.34 348.49 L740.34 345.08 L673.42 345.08 L673.42 341.67 L690.15 341.67 L690.15 338.26 L673.42 338.26 L673.42 334.86 L706.88 334.86 L706.88 331.45 L673.42 331.45 L673.42 328.04 L690.15 328.04 L690.15 324.63 L656.69 324.63 L656.69 321.22 L639.96 321.22 L639.96 317.82 L690.15 317.82 L690.15 314.41 L639.96 314.41 L639.96 311 L690.15 311 L690.15 307.59 L690.15 307.59 L690.15 304.18 L639.96 304.18 L639.96 300.78 L656.69 300.78 L656.69 297.37 L656.69 297.37 L656.69 293.96 L690.15 293.96 L690.15 290.55 L673.42 290.55 L673.42 287.14 L623.23 287.14 L623.23 283.74 L656.69 283.74 L656.69 280.33 L673.42 280.33 L673.42 276.92 L656.69 276.92 L656.69 273.51 L706.88 273.51 L706.88 270.1 L773.8 270.1 L773.8 266.7 L623.23 266.7 L623.23 263.29 L673.42 263.29 L673.42 259.88 L690.15 259.88 L690.15 256.47 L740.34 256.47 L740.34 253.06 L706.88 253.06 L706.88 249.66 L656.69 249.66 L656.69 246.25 L673.42 246.25 L673.42 242.84 L639.96 242.84 L639.96 239.43 L623.23 239.43 L623.23 236.02 L706.88 236.02 L706.88 232.62 L606.5 232.62 L606.5 229.21 L740.34 229.21 L740.34 225.8 L606.5 225.8"/>
</g>
<rect x="126.1" y="710.5" width="480.6" height="20.9" fill="url(#cool)"/>
<g stroke="#000" stroke-width="0.8">
<line x1="135.5" y1="610.3" x2="135.5" y2="607.3"/>
<line x1="135.5" y1="183.5" x2="135.5" y2="186.5"/>
<line x1="135.5" y1="183.5" x2="135.5" y2="180.5"/>
<line x1="135.5" y1="34.5" x2="135.5" y2="37.5"/>
<line x1="154.5" y1="610.3" x2="154.5" y2="607.3"/>
<line x1="154.5" y1="183.5" x2="154.5" y2="186.5"/>
<line x1="154.5" y1="183.5" x2="154.5" y2="180.5"/>
<line x1="154.5" y1="34.5" x2="154.5" y2="37.5"/>
<line x1="173.5" y1="610.3" x2="173.5" y2="607.3"/>
<line x1="173.5" y1="183.5" x2="173.5" y2="186.5"/>
<line x1="173.5" y1="183.5" x2="173.5" y2="180.5"/>
<line x1="173.5" y1="34.5" x2="173.5" y2="37.5"/>
<line x1="193.5" y1="610.3" x2="193.5" y2="604.3"/>
<line x1="193.5" y1="183.5" x2="193.5" y2="189.5"/>
<line x1="193.5" y1="183.5" x2="193.5" y2="177.5"/>
<line x1="193.5" y1="34.5" x2="193.5" y2="40.5"/>
<line x1="212.5" y1="610.3" x2="212.5" y2="607.3"/>
<line x1="212.5" y1="183.5" x2="212.5" y2="186.5"/>
<line x1="212.5" y1="183.5" x2="212.5" y2="180.5"/>
<line x1="212.5" y1="34.5" x2="212.5" y2="37.5"/>
<line x1="232.5" y1="610.3" x2="232.5" y2="607.3"/>
<line x1="232.5" y1="183.5" x2="232.5" y2="186.5"/>
<line x1="232.5" y1="183.5" x2="232.5" y2="180.5"/>
<line x1="232.5" y1="34.5" x2="232.5" y2="37.5"/>
<line x1="251.5" y1="610.3" x2="251.5" y2="607.3"/>
<line x1="251.5" y1="183.5" x2="251.5" y2="186.5"/>
<line x1="251.5" y1="183.5" x2="251.5" y2="180.5"/>
<line x1="251.5" y1="34.5" x2="251.5" y2="37.5"/>
<line x1="270.5" y1="610.3" x2="270.5" y2="607.3"/>
<line x1="270.5" y1="183.5" x2="270.5" y2="186.5"/>
<line x1="270.5" y1="183.5" x2="270.5" y2="180.5"/>
<line x1="270.5" y1="34.5" x2="270.5" y2="37.5"/>
<line x1="290.5" y1="610.3" x2="290.5" y2="604.3"/>
<line x1="290.5" y1="183.5" x2="290.5" y2="189.5"/>
<line x1="290.5" y1="183.5" x2="290.5" y2="177.5"/>
<line x1="290.5" y1="34.5" x2="290.5" y2="40.5"/>
<line x1="309.5" y1="610.3" x2="309.5" y2="607.3"/>
<line x1="309.5" y1="183.5" x2="309.5" y2="186.5"/>
<line x1="309.5" y1="183.5" x2="309.5" y2="180.5"/>
<line x1="309.5" y1="34.5" x2="309.5" y2="37.5"/>
<line x1="328.5" y1="610.3" x2="328.5" y2="607.3"/>
<line x1="328.5" y1="183.5" x2="328.5" y2="186.5"/>
<line x1="328.5" y1="183.5" x2="328.5" y2="180.5"/>
<line x1="328.5" y1="34.5" x2="328.5" y2="37.5"/>
<line x1="348.5" y1="610.3" x2="348.5" y2="607.3"/>
<line x1="348.5" y1="183.5" x2="348.5" y2="186.5"/>
<line x1="348.5" y1="183.5" x2="348.5" y2="180.5"/>
<line x1="348.5" y1="34.5" x2="348.5" y2="37.5"/>
<line x1="367.5" y1="610.3" x2="367.5" y2="607.3"/>
<line x1="367.5" y1="183.5" x2="367.5" y2="186.5"/>
<line x1="367.5" y1="183.5" x2="367.5" y2="180.5"/>
<line x1="367.5" y1="34.5" x2="367.5" y2="37.5"/>
<line x1="386.5" y1="610.3" x2="386.5" y2="604.3"/>
<line x1="386.5" y1="183.5" x2="386.5" y2="189.5"/>
<line x1="386.5" y1="183.5" x2="386.5" y2="177.5"/>
<line x1="386.5" y1="34.5" x2="386.5" y2="40.5"/>
<line x1="406.5" y1="610.3" x2="406.5" y2="607.3"/>
<line x1="406.5" y1="183.5" x2="406.5" y2="186.5"/>
<line x1="406.5" y1="183.5" x2="406.5" y2="180.5"/>
<line x1="406.5" y1="34.5" x2="406.5" y2="37.5"/>
<line x1="425.5" y1="610.3" x2="425.5" y2="607.3"/>
<line x1="425.5" y1="183.5" x2="425.5" y2="186.5"/>
<line x1="425.5" y1="183.5" x2="425.5" y2="180.5"/>
<line x1="425.5" y1="34.5" x2="425.5" y2="37.5"/>
<line x1="445.5" y1="610.3" x2="445.5" y2="607.3"/>
<line x1="445.5" y1="183.5" x2="445.5" y2="186.5"/>
<line x1="445.5" y1="183.5" x2="445.5" y2="180.5"/>
<line x1="445.5" y1="34.5" x2="445.5" y2="37.5"/>
<line x1="464.5" y1="610.3" x2="464.5" y2="607.3"/>
<line x1="464.5" y1="183.5" x2="464.5" y2="186.5"/>
<line x1="464.5" y1="183.5" x2="464.5" y2="180.5"/>
<line x1="464.5" y1="34.5" x2="464.5" y2="37.5"/>
<line x1="483.5" y1="610.3" x2="483.5" y2="604.3"/>
<line x1="483.5" y1="183.5" x2="483.5" y2="189.5"/>
<line x1="483.5" y1="183.5" x2="483.5" y2="177.5"/>
<line x1="483.5" y1="34.5" x2="483.5" y2="40.5"/>
<line x1="503.5" y1="610.3" x2="503.5" y2="607.3"/>
<line x1="503.5" y1="183.5" x2="503.5" y2="186.5"/>
<line x1="503.5" y1="183.5" x2="503.5" y2="180.5"/>
<line x1="503.5" y1="34.5" x2="503.5" y2="37.5"/>
<line x1="522.5" y1="610.3" x2="522.5" y2="607.3"/>
<line x1="522.5" y1="183.5" x2="522.5" y2="186.5"/>
<line x1="522.5" y1="183.5" x2="522.5" y2="180.5"/>
<line x1="522.5" y1="34.5" x2="522.5" y2="37.5"/>
<line x1="541.5" y1="610.3" x2="541.5" y2="607.3"/>
<line x1="541.5" y1="183.5" x2="541.5" y2="186.5"/>
<line x1="541.5" y1="183.5" x2="541.5" y2="180.5"/>
<line x1="541.5" y1="34.5" x2="541.5" y2="37.5"/>
<line x1="561.5" y1="610.3" x2="561.5" y2="607.3"/>
<line x1="561.5" y1="183.5" x2="561.5" y2="186.5"/>
<line x1="561.5" y1="183.5" x2="561.5" y2="180.5"/>
<line x1="561.5" y1="34.5" x2="561.5" y2="37.5"/>
<line x1="580.5" y1="610.3" x2="580.5" y2="604.3"/>
<line x1="580.5" y1="183.5" x2="580.5" y2="189.5"/>
<line x1="580.5" y1="183.5" x2="580.5" y2="177.5"/>
<line x1="580.5" y1="34.5" x2="580.5" y2="40.5"/>
<line x1="600.5" y1="610.3" x2="600.5" y2="607.3"/>
<line x1="600.5" y1="183.5" x2="600.5" y2="186.5"/>
<line x1="600.5" y1="183.5" x2="600.5" y2="180.5"/>
<line x1="600.5" y1="34.5" x2="600.5" y2="37.5"/>
<line x1="126.5" y1="595.5" x2="132.5" y2="595.5"/>
<line x1="606.5" y1="595.5" x2="600.5" y2="595.5"/>
<line x1="606.5" y1="595.5" x2="612.5" y2="595.5"/>
<line x1="774.5" y1="595.5" x2="768.5" y2="595.5"/>
<line x1="126.5" y1="577.5" x2="129.5" y2="577.5"/>
<line x1="606.5" y1="577.5" x2="603.5" y2="577.5"/>
<line x1="606.5" y1="577.5" x2="609.5" y2="577.5"/>
<line x1="774.5" y1="577.5" x2="771.5" y2="577.5"/>
<line x1="126.5" y1="560.5" x2="129.5" y2="560.5"/>
<line x1="606.5" y1="560.5" x2="603.5" y2="560.5"/>
<line x1="606.5" y1="560.5" x2="609.5" y2="560.5"/>
<line x1="774.5" y1="560.5" x2="771.5" y2="560.5"/>
<line x1="126.5" y1="543.5" x2="129.5" y2="543.5"/>
<line x1="606.5" y1="543.5" x2="603.5" y2="543.5"/>
<line x1="606.5" y1="543.5" x2="609.5" y2="543.5"/>
<line x1="774.5" y1="543.5" x2="771.5" y2="543.5"/>
<line x1="126.5" y1="526.5" x2="129.5" y2="526.5"/>
<line x1="606.5" y1="526.5" x2="603.5" y2="526.5"/>
<line x1="606.5" y1="526.5" x2="609.5" y2="526.5"/>
<line x1="774.5" y1="526.5" x2="771.5" y2="526.5"/>
<line x1="126.5" y1="509.5" x2="132.5" y2="509.5"/>
<line x1="606.5" y1="509.5" x2="600.5" y2="509.5"/>
<line x1="606.5" y1="509.5" x2="612.5" y2="509.5"/>
<line x1="774.5" y1="509.5" x2="768.5" y2="509.5"/>
<line x1="126.5" y1="492.5" x2="129.5" y2="492.5"/>
<line x1="606.5" y1="492.5" x2="603.5" y2="492.5"/>
<line x1="606.5" y1="492.5" x2="609.5" y2="492.5"/>
<line x1="774.5" y1="492.5" x2="771.5" y2="492.5"/>
<line x1="126.5" y1="475.5" x2="129.5" y2="475.5"/>
<line x1="606.5" y1="475.5" x2="603.5" y2="475.5"/>
<line x1="606.5" y1="475.5" x2="609.5" y2="475.5"/>
<line x1="774.5" y1="475.5" x2="771.5" y2="475.5"/>
<line x1="126.5" y1="457.5" x2="129.5" y2="457.5"/>
<line x1="606.5" y1="457.5" x2="603.5" y2="457.5"/>
<line x1="606.5" y1="457.5" x2="609.5" y2="457.5"/>
<line x1="774.5" y1="457.5" x2="771.5" y2="457.5"/>
<line x1="126.5" y1="440.5" x2="129.5" y2="440.5"/>
<line x1="606.5" y1="440.5" x2="603.5" y2="440.5"/>
<line x1="606.5" y1="440.5" x2="609.5" y2="440.5"/>
<line x1="774.5" y1="440.5" x2="771.5" y2="440.5"/>
<line x1="126.5" y1="423.5" x2="132.5" y2="423.5"/>
<line x1="606.5" y1="423.5" x2="600.5" y2="423.5"/>
<line x1="606.5" y1="423.5" x2="612.5" y2="423.5"/>
<line x1="774.5" y1="423.5" x2="768.5" y2="423.5"/>
<line x1="126.5" y1="406.5" x2="129.5" y2="406.5"/>
<line x1="606.5" y1="406.5" x2="603.5" y2="406.5"/>
<line x1="606.5" y1="406.5" x2="609.5" y2="406.5"/>
<line x1="774.5" y1="406.5" x2="771.5" y2="406.5"/>
<line x1="126.5" y1="389.5" x2="129.5" y2="389.5"/>
<line x1="606.5" y1="389.5" x2="603.5" y2="389.5"/>
<line x1="606.5" y1="389.5" x2="609.5" y2="389.5"/>
<line x1="774.5" y1="389.5" x2="771.5" y2="389.5"/>
<line x1="126.5" y1="372.5" x2="129.5" y2="372.5"/>
<line x1="606.5" y1="372.5" x2="603.5" y2="372.5"/>
<line x1="606.5" y1="372.5" x2="609.5" y2="372.5"/>
<line x1="774.5" y1="372.5" x2="771.5" y2="372.5"/>
<line x1="126.5" y1="355.5" x2="129.5" y2="355.5"/>
<line x1="606.5" y1="355.5" x2="603.5" y2="355.5"/>
<line x1="606.5" y1="355.5" x2="609.5" y2="355.5"/>
<line x1="774.5" y1="355.5" x2="771.5" y2="355.5"/>
<line x1="126.5" y1="338.5" x2="132.5" y2="338.5"/>
<line x1="606.5" y1="338.5" x2="600.5" y2="338.5"/>
<line x1="606.5" y1="338.5" x2="612.5" y2="338.5"/>
<line x1="774.5" y1="338.5" x2="768.5" y2="338.5"/>
<line x1="126.5" y1="320.5" x2="129.5" y2="320.5"/>
<line x1="606.5" y1="320.5" x2="603.5" y2="320.5"/>
<line x1="606.5" y1="320.5" x2="609.5" y2="320.5"/>
<line x1="774.5" y1="320.5" x2="771.5" y2="320.5"/>
<line x1="126.5" y1="303.5" x2="129.5" y2="303.5"/>
<line x1="606.5" y1="303.5" x2="603.5" y2="303.5"/>
<line x1="606.5" y1="303.5" x2="609.5" y2="303.5"/>
<line x1="774.5" y1="303.5" x2="771.5" y2="303.5"/>
<line x1="126.5" y1="286.5" x2="129.5" y2="286.5"/>
<line x1="606.5" y1="286.5" x2="603.5" y2="286.5"/>
<line x1="606.5" y1="286.5" x2="609.5" y2="286.5"/>
<line x1="774.5" y1="286.5" x2="771.5" y2="286.5"/>
<line x1="126.5" y1="269.5" x2="129.5" y2="269.5"/>
<line x1="606.5" y1="269.5" x2="603.5" y2="269.5"/>
<line x1="606.5" y1="269.5" x2="609.5" y2="269.5"/>
<line x1="774.5" y1="269.5" x2="771.5" y2="269.5"/>
<line x1="126.5" y1="252.5" x2="132.5" y2="252.5"/>
<line x1="606.5" y1="252.5" x2="600.5" y2="252.5"/>
<line x1="606.5" y1="252.5" x2="612.5" y2="252.5"/>
<line x1="774.5" y1="252.5" x2="768.5" y2="252.5"/>
<line x1="126.5" y1="235.5" x2="129.5" y2="235.5"/>
<line x1="606.5" y1="235.5" x2="603.5" y2="235.5"/>
<line x1="606.5" y1="235.5" x2="609.5" y2="235.5"/>
<line x1="774.5" y1="235.5" x2="771.5" y2="235.5"/>
<line x1="126.5" y1="218.5" x2="129.5" y2="218.5"/>
<line x1="606.5" y1="218.5" x2="603.5" y2="218.5"/>
<line x1="606.5" y1="218.5" x2="609.5" y2="218.5"/>
<line x1="774.5" y1="218.5" x2="771.5" y2="218.5"/>
<line x1="126.5" y1="200.5" x2="129.5" y2="200.5"/>
<line x1="606.5" y1="200.5" x2="603.5" y2="200.5"/>
<line x1="606.5" y1="200.5" x2="609.5" y2="200.5"/>
<line x1="774.5" y1="200.5" x2="771.5" y2="200.5"/>
<line x1="126.5" y1="183.5" x2="129.5" y2="183.5"/>
<line x1="606.5" y1="183.5" x2="603.5" y2="183.5"/>
<line x1="606.5" y1="183.5" x2="609.5" y2="183.5"/>
<line x1="774.5" y1="183.5" x2="771.5" y2="183.5"/>
<line x1="126.5" y1="183.5" x2="132.5" y2="183.5"/>
<line x1="606.5" y1="183.5" x2="600.5" y2="183.5"/>
<line x1="126.5" y1="168.5" x2="129.5" y2="168.5"/>
<line x1="606.5" y1="168.5" x2="603.5" y2="168.5"/>
<line x1="126.5" y1="153.5" x2="132.5" y2="153.5"/>
<line x1="606.5" y1="153.5" x2="600.5" y2="153.5"/>
<line x1="126.5" y1="138.5" x2="129.5" y2="138.5"/>
<line x1="606.5" y1="138.5" x2="603.5" y2="138.5"/>
<line x1="126.5" y1="123.5" x2="132.5" y2="123.5"/>
<line x1="606.5" y1="123.5" x2="600.5" y2="123.5"/>
<line x1="126.5" y1="109.5" x2="129.5" y2="109.5"/>
<line x1="606.5" y1="109.5" x2="603.5" y2="109.5"/>
<line x1="126.5" y1="94.5" x2="132.5" y2="94.5"/>
<line x1="606.5" y1="94.5" x2="600.5" y2="94.5"/>
<line x1="126.5" y1="79.5" x2="129.5" y2="79.5"/>
<line x1="606.5" y1="79.5" x2="603.5" y2="79.5"/>
<line x1="126.5" y1="64.5" x2="132.5" y2="64.5"/>
<line x1="606.5" y1="64.5" x2="600.5" y2="64.5"/>
<line x1="126.5" y1="49.5" x2="129.5" y2="49.5"/>
<line x1="606.5" y1="49.5" x2="603.5" y2="49.5"/>
<line x1="126.5" y1="34.5" x2="132.5" y2="34.5"/>
<line x1="606.5" y1="34.5" x2="600.5" y2="34.5"/>
<line x1="606.5" y1="610.3" x2="606.5" y2="604.3"/>
<line x1="606.5" y1="183.5" x2="606.5" y2="189.5"/>
<line x1="623.5" y1="610.3" x2="623.5" y2="607.3"/>
<line x1="623.5" y1="183.5" x2="623.5" y2="186.5"/>
<line x1="640.5" y1="610.3" x2="640.5" y2="604.3"/>
<line x1="640.5" y1="183.5" x2="640.5" y2="189.5"/>
<line x1="656.5" y1="610.3" x2="656.5" y2="607.3"/>
<line x1="656.5" y1="183.5" x2="656.5" y2="186.5"/>
<line x1="673.5" y1="610.3" x2="673.5" y2="604.3"/>
<line x1="673.5" y1="183.5" x2="673.5" y2="189.5"/>
<line x1="690.5" y1="610.3" x2="690.5" y2="607.3"/>
<line x1="690.5" y1="183.5" x2="690.5" y2="186.5"/>
<line x1="707.5" y1="610.3" x2="707.5" y2="604.3"/>
<line x1="707.5" y1="183.5" x2="707.5" y2="189.5"/>
<line x1="724.5" y1="610.3" x2="724.5" y2="607.3"/>
<line x1="724.5" y1="183.5" x2="724.5" y2="186.5"/>
<line x1="740.5" y1="610.3" x2="740.5" y2="604.3"/>
<line x1="740.5" y1="183.5" x2="740.5" y2="189.5"/>
<line x1="757.5" y1="610.3" x2="757.5" y2="607.3"/>
<line x1="757.5" y1="183.5" x2="757.5" y2="186.5"/>
<line x1="774.5" y1="610.3" x2="774.5" y2="604.3"/>
<line x1="774.5" y1="183.5" x2="774.5" y2="189.5"/>
<line x1="179.5" y1="731.4" x2="179.5" y2="725.8"/>
<line x1="236.5" y1="731.4" x2="236.5" y2="725.8"/>
<line x1="294.5" y1="731.4" x2="294.5" y2="725.8"/>
<line x1="352.5" y1="731.4" x2="352.5" y2="725.8"/>
<line x1="409.5" y1="731.4" x2="409.5" y2="725.8"/>
<line x1="467.5" y1="731.4" x2="467.5" y2="725.8"/>
<line x1="524.5" y1="731.4" x2="524.5" y2="725.8"/>
<line x1="582.5" y1="731.4" x2="582.5" y2="725.8"/>
</g>
<g fill="none" stroke="#000" stroke-width="1.3">
<rect x="126.5" y="183.5" width="480" height="426.8"/>
<rect x="126.5" y="34.5" width="480" height="149"/>
<rect x="606.5" y="183.5" width="168" height="426.8"/>
<rect x="126.1" y="710.5" width="480.6" height="20.9"/>
</g>
<g>
<text transform="translate(190.05 633) scale(0.89 1)" text-anchor="middle" font-size="25.5" letter-spacing="0.35">1500.0</text>
<text transform="translate(286.9 633) scale(0.89 1)" text-anchor="middle" font-size="25.5" letter-spacing="0.35">1600.0</text>
<text transform="translate(384.15 633) scale(0.89 1)" text-anchor="middle" font-size="25.5" letter-spacing="0.35">1700.0</text>
<text transform="translate(480.2 633) scale(0.89 1)" text-anchor="middle" font-size="25.5" letter-spacing="0.35">1800.0</text>
<text transform="translate(576.65 633) scale(0.89 1)" text-anchor="middle" font-size="25.5" letter-spacing="0.35">1900.0</text>
<text transform="translate(117.9 601) scale(0.89 1)" text-anchor="end" font-size="25.5" letter-spacing="0.35">1500.0</text>
<text transform="translate(117.9 514.7) scale(0.89 1)" text-anchor="end" font-size="25.5" letter-spacing="0.35">1600.0</text>
<text transform="translate(117.9 428.7) scale(0.89 1)" text-anchor="end" font-size="25.5" letter-spacing="0.35">1700.0</text>
<text transform="translate(117.9 343.6) scale(0.89 1)" text-anchor="end" font-size="25.5" letter-spacing="0.35">1800.0</text>
<text transform="translate(117.9 257.7) scale(0.89 1)" text-anchor="end" font-size="25.5" letter-spacing="0.35">1900.0</text>
<text transform="translate(120.25 188.8) scale(0.89 1)" text-anchor="end" font-size="25.5">0</text>
<text transform="translate(120.25 159.62) scale(0.89 1)" text-anchor="end" font-size="25.5">2</text>
<text transform="translate(120.25 129.74) scale(0.89 1)" text-anchor="end" font-size="25.5">4</text>
<text transform="translate(120.25 99.86) scale(0.89 1)" text-anchor="end" font-size="25.5">6</text>
<text transform="translate(120.25 69.98) scale(0.89 1)" text-anchor="end" font-size="25.5">8</text>
<text transform="translate(118.2 40.1) scale(0.89 1)" text-anchor="end" font-size="25.5" letter-spacing="0.35">10</text>
<text transform="translate(605.9 633) scale(0.89 1)" text-anchor="middle" font-size="25.5">0</text>
<text transform="translate(638.5 633) scale(0.89 1)" text-anchor="middle" font-size="25.5">2</text>
<text transform="translate(672.2 633) scale(0.89 1)" text-anchor="middle" font-size="25.5">4</text>
<text transform="translate(706.3 633) scale(0.89 1)" text-anchor="middle" font-size="25.5">6</text>
<text transform="translate(740.8 633) scale(0.89 1)" text-anchor="middle" font-size="25.5">8</text>
<text transform="translate(771.1 633) scale(0.89 1)" text-anchor="middle" font-size="25.5" letter-spacing="0.35">10</text>
<text transform="translate(178.4 754) scale(0.89 1)" text-anchor="middle" font-size="25.5" letter-spacing="0.35">0.0</text>
<text transform="translate(236.77 754) scale(0.89 1)" text-anchor="middle" font-size="25.5" letter-spacing="0.35">0.3</text>
<text transform="translate(293.44 754) scale(0.89 1)" text-anchor="middle" font-size="25.5" letter-spacing="0.35">0.6</text>
<text transform="translate(351.11 754) scale(0.89 1)" text-anchor="middle" font-size="25.5" letter-spacing="0.35">0.9</text>
<text transform="translate(405.48 754) scale(0.89 1)" text-anchor="middle" font-size="25.5" letter-spacing="0.35">1.2</text>
<text transform="translate(464.05 754) scale(0.89 1)" text-anchor="middle" font-size="25.5" letter-spacing="0.35">1.5</text>
<text transform="translate(521.82 754) scale(0.89 1)" text-anchor="middle" font-size="25.5" letter-spacing="0.35">1.8</text>
<text transform="translate(581.19 754) scale(0.89 1)" text-anchor="middle" font-size="25.5" letter-spacing="0.35">2.1</text>
<text transform="translate(365.5 670) scale(0.89 1)" text-anchor="middle" font-size="25.5" letter-spacing="0.35">X[pix]</text>
<text transform="translate(36.8 398) rotate(-90) scale(0.89 1)" text-anchor="middle" font-size="25.5" letter-spacing="0.35">Y[pix]</text>
<text transform="translate(81.5 107.9) rotate(-90) scale(1.12 1)" text-anchor="middle" font-size="25.5" font-style="italic">N</text>
<text transform="translate(689.8 666) scale(1.08 1)" text-anchor="middle" font-size="25.5" font-style="italic">N</text>
<text transform="translate(367.2 786.5) scale(1.0 1)" text-anchor="middle" font-size="25.5">V-I</text>
</g>
</svg>
</body></html>
